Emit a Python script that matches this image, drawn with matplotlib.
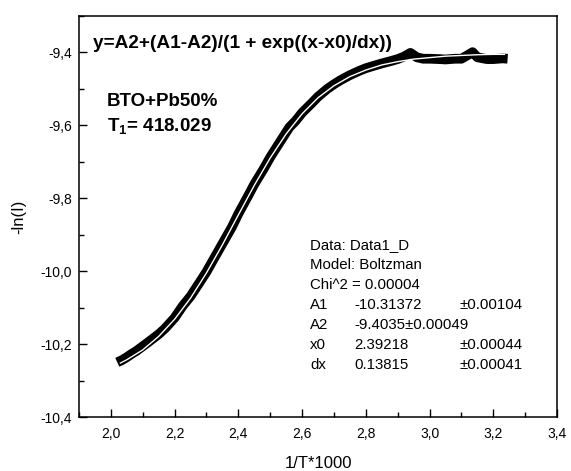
import matplotlib.pyplot as plt
from matplotlib.ticker import MultipleLocator, FuncFormatter

data_x = [2.020, 2.035, 2.050, 2.065, 2.080, 2.100, 2.120, 2.150, 2.170, 2.200,
          2.225, 2.250, 2.280, 2.300, 2.320, 2.350, 2.380, 2.400, 2.430, 2.450,
          2.480, 2.500, 2.530, 2.560, 2.580, 2.600, 2.630, 2.650, 2.680, 2.700,
          2.720, 2.750, 2.780, 2.800, 2.830, 2.850, 2.880, 2.900, 2.920, 2.940,
          2.960, 2.980, 3.000, 3.030, 3.050, 3.080, 3.100, 3.120, 3.135, 3.150,
          3.180, 3.200, 3.230, 3.245]
data_y = [-10.250, -10.244, -10.236, -10.227, -10.219, -10.206, -10.193, -10.173, -10.157, -10.128,
          -10.096, -10.069, -10.029, -10.002, -9.971, -9.925, -9.879, -9.843, -9.795, -9.762,
          -9.719, -9.688, -9.647, -9.606, -9.588, -9.566, -9.540, -9.522, -9.500, -9.488,
          -9.477, -9.463, -9.451, -9.444, -9.436, -9.431, -9.424, -9.419, -9.412, -9.402,
          -9.414, -9.418, -9.418, -9.419, -9.420, -9.418, -9.418, -9.408, -9.400, -9.414,
          -9.419, -9.419, -9.417, -9.418]

# Boltzmann fit curve
fit_x = [2.03, 2.05, 2.10, 2.15, 2.20, 2.25, 2.30, 2.35, 2.40, 2.45,
         2.50, 2.55, 2.60, 2.65, 2.70, 2.75, 2.80, 2.85, 2.90, 2.95,
         3.00, 3.05, 3.10, 3.15, 3.20, 3.235]
fit_y = [-10.252, -10.243, -10.216, -10.179, -10.132, -10.074, -10.005, -9.928, -9.846, -9.765,
         -9.690, -9.624, -9.569, -9.525, -9.492, -9.467, -9.449, -9.435, -9.426, -9.419,
         -9.415, -9.411, -9.409, -9.407, -9.406, -9.406]

x_ticks = [2.0, 2.2, 2.4, 2.6, 2.8, 3.0, 3.2, 3.4]
y_ticks = [-10.4, -10.2, -10.0, -9.8, -9.6, -9.4]

formula = "y=A2+(A1-A2)/(1 + exp((x-x0)/dx))"
sample = "BTO+Pb50%"
t1_text = r"T$_\mathregular{1}$= 418.029"
fit_rows = [
    ("Data: Data1_D", "", ""),
    ("Model: Boltzman", "", ""),
    ("Chi^2 = 0.00004", "", ""),
    ("A1", "-10.31372", "\u00b10.00104"),
    ("A2", "-9.4035\u00b10.00049", ""),
    ("x0", "2.39218", "\u00b10.00044"),
    ("dx", "0.13815", "\u00b10.00041"),
]

plt.rcParams['font.family'] = ['Liberation Sans', 'DejaVu Sans']

fig = plt.figure(figsize=(5.71, 4.71), dpi=100)
ax = fig.add_axes([0.1384, 0.1146, 0.8371, 0.8521])

# data drawn as a fat black band, fit as thin white line on top
ax.plot(data_x, data_y, color='black', lw=7, solid_joinstyle='round', solid_capstyle='butt')
ax.plot(fit_x, fit_y, color='white', lw=1.0)

ax.set_xlim(1.9, 3.4)
ax.set_ylim(-10.4, -9.3)
ax.set_xticks(x_ticks)
ax.set_yticks(y_ticks)
ax.xaxis.set_minor_locator(MultipleLocator(0.1))
ax.yaxis.set_minor_locator(MultipleLocator(0.1))
comma = FuncFormatter(lambda v, p: f"{v:.1f}".replace('.', ','))
ax.xaxis.set_major_formatter(comma)
ax.yaxis.set_major_formatter(comma)
ax.tick_params(which='major', direction='in', length=6, width=1.0, labelsize=10)
ax.tick_params(which='minor', direction='in', length=3.5, width=1.0)
ax.tick_params(axis='x', which='major', pad=7)
ax.tick_params(axis='y', which='major', pad=5)
for sp in ax.spines.values():
    sp.set_linewidth(1.1)

ax.set_xlabel("1/T*1000", fontsize=12, labelpad=11)
ax.set_ylabel("-ln(I)", fontsize=12, labelpad=10)

# annotations
ax.text(0.03, 0.92, formula, transform=ax.transAxes, fontsize=13.7, fontweight='bold')
ax.text(0.058, 0.775, sample, transform=ax.transAxes, fontsize=13.5, fontweight='bold')
ax.text(0.058, 0.712, t1_text, transform=ax.transAxes, fontsize=13.5, fontweight='bold')

row_y0 = 245
for i, (a, b, c) in enumerate(fit_rows):
    yy = 1 - (row_y0 + i * 20) / 471
    fig.text(310 / 571, yy, a, fontsize=10.8, va='center')
    if b:
        fig.text(354 / 571, yy, b, fontsize=10.8, va='center')
    if c:
        fig.text(459 / 571, yy, c, fontsize=10.8, va='center')

fig.savefig("out.png", dpi=100)
